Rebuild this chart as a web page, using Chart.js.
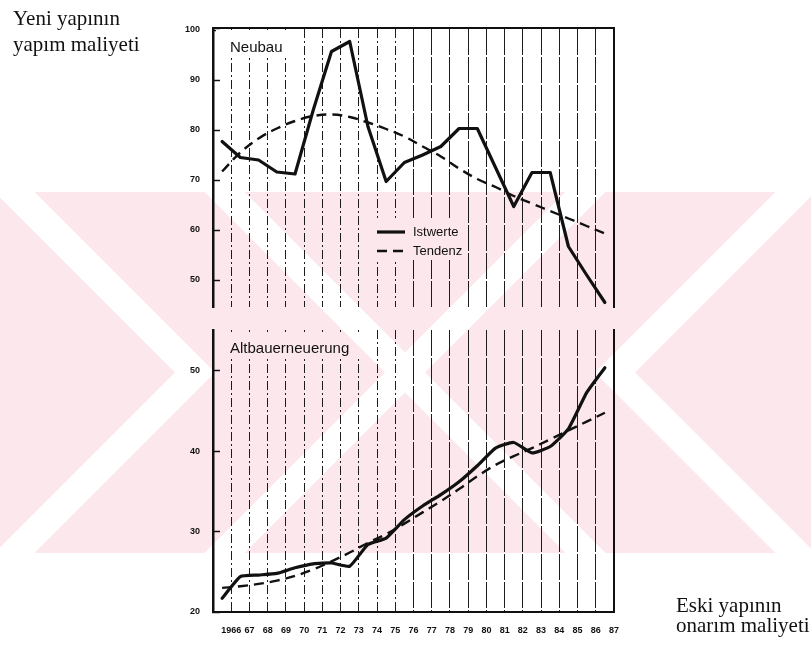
<!DOCTYPE html>
<html lang="de">
<head>
<meta charset="utf-8">
<title>Neubau / Altbauerneuerung</title>
<script src="https://cdn.jsdelivr.net/npm/chart.js@4.4.1/dist/chart.umd.min.js"></script>
<style>
  html, body { margin: 0; padding: 0; background: #fff; }
  #page { position: relative; width: 811px; height: 646px; overflow: hidden; }
  #page canvas { position: absolute; left: 0; top: 0; }
  .note { position: absolute; font-family: "Liberation Serif", serif; font-size: 21px; color: #111; white-space: nowrap; }
</style>
</head>
<body>
<div id="page">
  <canvas id="neubau" width="811" height="646"></canvas>
  <canvas id="altbau" width="811" height="646"></canvas>
  <div class="note" style="left:13px; top:5px; line-height:26px">Yeni yapının<br>yapım maliyeti</div>
  <div class="note" style="left:676px; top:595px; line-height:20px">Eski yapının<br>onarım maliyeti</div>
</div>
<script>
// year lines and their labels
const years = [1966, 1967, 1968, 1969, 1970, 1971, 1972, 1973, 1974, 1975, 1976,
               1977, 1978, 1979, 1980, 1981, 1982, 1983, 1984, 1985, 1986, 1987];
const yearLabels = ['1966', '67', '68', '69', '70', '71', '72', '73', '74', '75', '76',
                    '77', '78', '79', '80', '81', '82', '83', '84', '85', '86', '87'];

// Neubau
const neubauIst   = [77.7, 74.5, 74.0, 71.6, 71.2, 84.0, 95.7, 97.7, 80.7, 69.7, 73.5,
                     75.0, 76.7, 80.3, 80.3, 72.5, 64.7, 71.5, 71.5, 56.7, 51.0, 45.5];
const neubauTrend = [71.7, 75.5, 78.3, 80.3, 81.8, 82.8, 83.1, 82.6, 81.5, 80.2, 78.7,
                     76.7, 74.7, 72.3, 70.2, 68.6, 66.8, 65.3, 63.8, 62.3, 60.8, 59.3];
const neubauTicks = [50, 60, 70, 80, 90, 100];

// Altbauerneuerung
const altbauIst   = [21.7, 24.4, 24.6, 24.8, 25.5, 26.0, 26.1, 25.7, 28.4, 29.2, 31.5,
                     33.2, 34.6, 36.2, 38.2, 40.4, 41.1, 39.8, 40.6, 42.8, 47.3, 50.4];
const altbauTrend = [23.0, 23.2, 23.5, 23.9, 24.5, 25.3, 26.3, 27.4, 28.6, 29.7, 31.0,
                     32.4, 33.8, 35.3, 36.9, 38.3, 39.4, 40.4, 41.5, 42.6, 43.7, 44.8];
const altbauTicks = [20, 30, 40, 50];

Chart.defaults.font.family = '"Liberation Sans", Arial, sans-serif';
Chart.defaults.color = '#111';

// each yearly value sits in the middle of its year interval
const points = vals => vals.map((v, i) => ({ x: years[i] - 0.5, y: v }));

const INK = '#111';

// pale chevron band behind both panels: pink with white V-shaped gaps
const WM = { top: 192, bottom: 553, mid: 372.5, gap: 40, color: 'rgb(252,231,236)' };
const wmGaps = [{ apex: 195, dir: 1 }, { apex: 405, dir: 1 }, { apex: 405, dir: -1 }, { apex: 615, dir: -1 }];

function paintWatermark(ctx, w, clip) {
  ctx.save();
  if (clip) {
    ctx.beginPath();
    ctx.rect(clip.x, clip.y, clip.w, clip.h);
    ctx.clip();
    ctx.fillStyle = '#fff';
    ctx.fillRect(clip.x, clip.y, clip.w, clip.h);
  }
  ctx.fillStyle = WM.color;
  ctx.fillRect(0, WM.top, w, WM.bottom - WM.top);
  ctx.fillStyle = '#fff';
  const h = WM.mid - WM.top, s = WM.gap / 2;
  wmGaps.forEach(({ apex: a, dir: d }) => {
    ctx.beginPath();
    ctx.moveTo(a - d * h - s, WM.top);
    ctx.lineTo(a - d * h + s, WM.top);
    ctx.lineTo(a + s, WM.mid);
    ctx.lineTo(a - d * h + s, WM.bottom);
    ctx.lineTo(a - d * h - s, WM.bottom);
    ctx.lineTo(a - s, WM.mid);
    ctx.closePath();
    ctx.fill();
  });
  ctx.restore();
}

// titles inside the plot, optional legend
const panelText = {
  id: 'panelText',
  beforeDraw(chart, args, opts) {
    if (opts.background) paintWatermark(chart.ctx, chart.width);
  },
  afterDraw(chart, args, opts) {
    const { ctx, chartArea } = chart;
    ctx.save();
    ctx.font = '15px "Liberation Sans"';
    const tw = ctx.measureText(opts.title).width;
    paintWatermark(ctx, chart.width, { x: chartArea.left + 3, y: chartArea.top + 2, w: tw + 24, h: opts.dy + 4 });
    ctx.fillStyle = INK;
    ctx.textBaseline = 'alphabetic';
    ctx.fillText(opts.title, chartArea.left + opts.dx, chartArea.top + opts.dy);

    if (opts.legend) {
      const L = opts.legend;
      paintWatermark(ctx, chart.width, L);
      ctx.font = '13px "Liberation Sans"';
      ctx.textBaseline = 'middle';
      chart.data.datasets.forEach((ds, i) => {
        const cy = L.y + 14 + i * 19;
        ctx.strokeStyle = ds.borderColor;
        ctx.lineWidth = ds.borderWidth;
        ctx.setLineDash(ds.borderDash || []);
        ctx.beginPath();
        ctx.moveTo(L.x + 7, cy);
        ctx.lineTo(L.x + 35, cy);
        ctx.stroke();
        ctx.setLineDash([]);
        ctx.fillStyle = INK;
        ctx.fillText(ds.label, L.x + 43, cy);
      });
    }
    ctx.restore();
  }
};

function yearGridColor(c) {
  if (!c.tick) return 'rgba(0,0,0,0)';
  return c.tick.value < 1987 ? '#1c1c1c' : 'rgba(0,0,0,0)';
}
// broken lines on the left, nearly solid ones from 1976 on
function yearGridDash(c) {
  if (!c.tick) return [];
  return c.tick.value <= 1975 ? [9, 3, 2, 3] : [26, 2];
}

function makeChart(id, ist, trend, yTicks, cfg) {
  return new Chart(document.getElementById(id), {
    type: 'line',
    data: {
      datasets: [
        { label: 'Istwerte', data: points(ist), borderColor: INK, borderWidth: 3.2,
          pointRadius: 0, tension: cfg.tension, borderJoinStyle: 'round', borderCapStyle: 'round' },
        { label: 'Tendenz', data: points(trend), borderColor: INK, borderWidth: 2.4,
          borderDash: [10, 6], pointRadius: 0, tension: 0.4 }
      ]
    },
    options: {
      responsive: false,
      animation: false,
      events: [],
      layout: { padding: cfg.padding },
      plugins: {
        legend: { display: false },
        tooltip: { enabled: false },
        panelText: { title: cfg.title, dx: 17, dy: cfg.titleDy, legend: cfg.legend, background: cfg.background }
      },
      scales: {
        x: {
          type: 'linear',
          position: cfg.xPosition,
          min: 1965, max: 1987,
          afterBuildTicks: s => { s.ticks = years.map(v => ({ value: v })); },
          afterFit: s => { s.height = cfg.xHeight; },
          ticks: {
            display: cfg.xLabels,
            autoSkip: false, maxRotation: 0, minRotation: 0,
            padding: 13,
            font: { size: 9, weight: 'bold' },
            callback: v => yearLabels[years.indexOf(v)]
          },
          grid: { color: yearGridColor, lineWidth: 1, drawTicks: false },
          border: { display: true, color: INK, width: 2, dash: yearGridDash }
        },
        y: {
          position: 'left',
          min: cfg.yMin, max: cfg.yMax,
          afterBuildTicks: s => { s.ticks = yTicks.map(v => ({ value: v })); },
          afterFit: s => { s.width = 213; },
          ticks: { padding: 20, font: { size: 9, weight: 'bold' } },
          grid: { drawOnChartArea: false, drawTicks: true, tickLength: -7, tickWidth: 1.5, tickColor: INK },
          border: { color: INK, width: 2.5 }
        },
        yRight: {
          position: 'right',
          min: cfg.yMin, max: cfg.yMax,
          afterFit: s => { s.width = 0; },
          ticks: { display: false },
          grid: { display: false },
          border: { color: INK, width: 2 }
        }
      }
    },
    plugins: [panelText]
  });
}

makeChart('neubau', neubauIst, neubauTrend, neubauTicks, {
  title: 'Neubau', titleDy: 24, tension: 0, background: true,
  yMin: 44.6, yMax: 100.4,
  xPosition: 'top', xHeight: 0, xLabels: false,
  padding: { left: 0, right: 197, top: 28, bottom: 339 },
  legend: { x: 370, y: 218, w: 96, h: 42 }
});

makeChart('altbau', altbauIst, altbauTrend, altbauTicks, {
  title: 'Altbauerneuerung', titleDy: 23, tension: 0.15, background: false,
  yMin: 20, yMax: 55.1,
  xPosition: 'bottom', xHeight: 34, xLabels: true,
  padding: { left: 0, right: 197, top: 330, bottom: 0 },
  legend: null
});
</script>
</body>
</html>
